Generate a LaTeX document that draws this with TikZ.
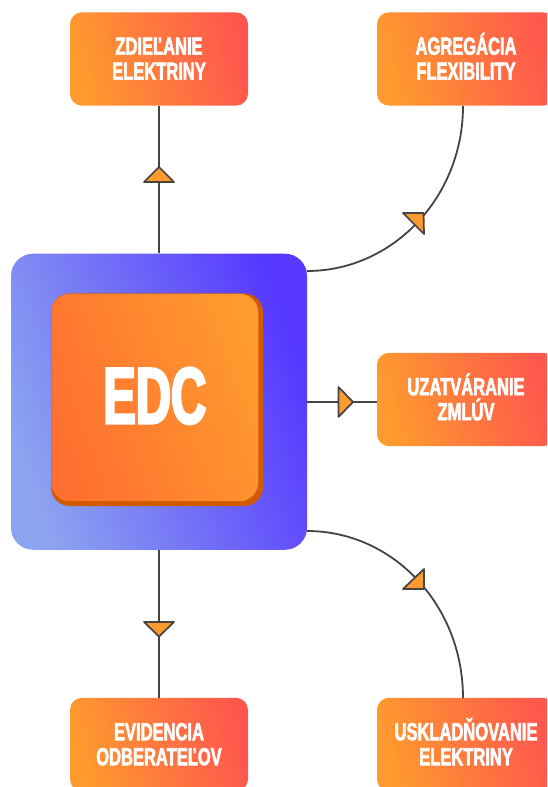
\documentclass[tikz,border=0pt]{standalone}
\usepackage{fontspec}
\setmainfont{Liberation Sans}
\newfontfamily\lblfont[FakeStretch=0.67,FakeBold=2.2]{Liberation Sans Bold}
\newfontfamily\corefont[FakeStretch=0.61,FakeBold=3]{Liberation Sans Bold}
\usetikzlibrary{calc}
\definecolor{lineC}{HTML}{444444}
\definecolor{markC}{HTML}{FF9A2E}
\definecolor{boxA}{HTML}{FF9A2E}
\definecolor{boxB}{HTML}{FF574E}
\definecolor{hubA}{HTML}{8CA3F0}
\definecolor{hubB}{HTML}{5638FF}
\definecolor{coreA}{HTML}{FF7030}
\definecolor{coreB}{HTML}{FF9A2E}
\definecolor{coreS}{HTML}{D05A00}
\newcommand{\boxtext}[2]{\rule{0pt}{27.9pt}\begin{tabular}{@{}c@{}}\smash{#1}\\\smash{#2}\end{tabular}}
\tikzset{
  x=0.75pt,y=-0.75pt,
  boxnode/.style={rounded corners=9pt,minimum width=133.5pt,minimum height=70pt,inner sep=0pt,
    left color=boxA,right color=boxB,shading angle=105,
    text=white,font=\lblfont\fontsize{18.5pt}{18.75pt}\selectfont},
  link/.style={draw=lineC,line width=1.5pt},
  curvelink/.style={draw=lineC,line width=1.35pt},
  marker/.style={draw=lineC,fill=markC,line width=1.3pt,line join=round},
}
\begin{document}
\begin{tikzpicture}
\useasboundingbox (0,0) rectangle (547,787);
\clip (0,0) rectangle (547,787);
% hub
\node[rounded corners=16.5pt,minimum width=222pt,minimum height=222pt,inner sep=0pt,
  left color=hubA,right color=hubB,shading angle=110] (hub) at (159,401.75) {};
\node[rounded corners=14pt,minimum width=159pt,minimum height=159.4pt,inner sep=0pt,fill=coreS] (coreshadow) at (157,399.75) {};
\node[rounded corners=14pt,minimum width=155.25pt,minimum height=155.5pt,inner sep=0pt,
  left color=coreA,right color=coreB,shading angle=110,text=white,
  font=\corefont\fontsize{60pt}{60pt}\selectfont] (core) at (154.75,397.5) {\rule[-3pt]{0pt}{3pt}EDC};
% boxes
\node[boxnode] (share) at (159,59) {\boxtext{ZDIEĽANIE}{ELEKTRINY}};
\node[boxnode] (agg) at (466,59) {\boxtext{AGREGÁCIA}{FLEXIBILITY}};
\node[boxnode] (contract) at (466,399.5) {\boxtext{UZATVÁRANIE}{ZMLÚV}};
\node[boxnode] (store) at (466,744.5) {\boxtext{USKLADŇOVANIE}{ELEKTRINY}};
\node[boxnode] (record) at (159,744.5) {\boxtext{EVIDENCIA}{ODBERATEĽOV}};
% connectors
\coordinate (aggfoot) at (463,106);
\coordinate (storehead) at (463,698);
\coordinate (hubup) at (307,271);
\coordinate (hubdown) at (307,531);
\coordinate (hubright) at (307,401.5);
\coordinate (contractleft) at (377,401.5);
\path[link] (hub.north) -- (share.south);
\path[link] (hub.south) -- (record.north);
\path[link] (hubright) -- (contractleft);
\path[curvelink] (hubup) .. controls (393,271) and (463,197) .. (aggfoot);
\path[curvelink] (hubdown) .. controls (393,531) and (463,605) .. (storehead);
% markers
\draw[marker] (159,167) -- (174,182) -- (144,182) -- cycle;
\draw[marker] (159,636.5) -- (174,622) -- (144,622) -- cycle;
\draw[marker] (353,402) -- (338.5,387) -- (338.5,417) -- cycle;
\draw[marker] (423.5,213) -- (403,213) -- (424,234) -- cycle;
\draw[marker] (424,589) -- (403,589) -- (424,569) -- cycle;
\end{tikzpicture}
\end{document}
